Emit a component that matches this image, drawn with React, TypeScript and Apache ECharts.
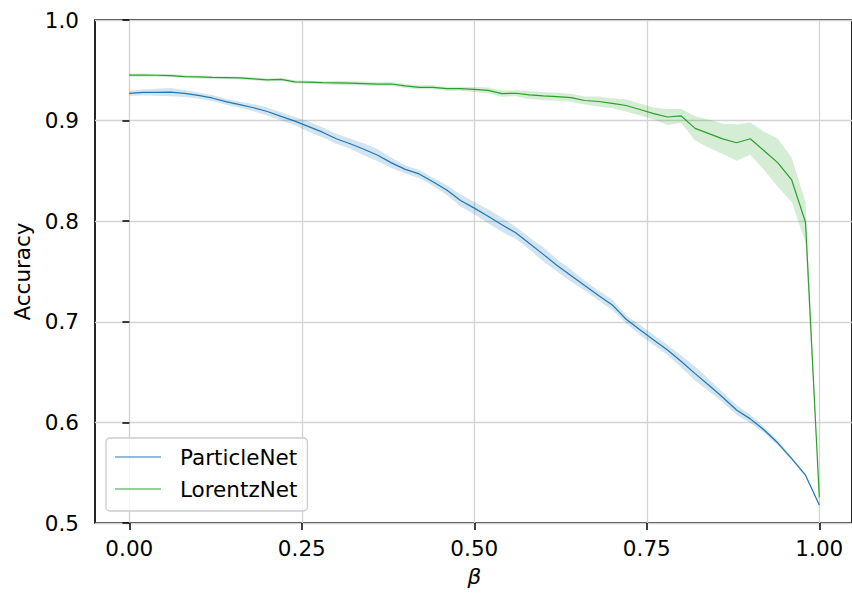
import React, { useEffect, useRef } from "react";
import * as echarts from "echarts";

const betas = [
  0.0, 0.02, 0.04, 0.06, 0.08, 0.1, 0.12, 0.14, 0.16, 0.18, 0.2, 0.22, 0.24, 0.26, 0.28, 0.3, 0.32,
  0.34, 0.36, 0.38, 0.4, 0.42, 0.44, 0.46, 0.48, 0.5, 0.52, 0.54, 0.56, 0.58, 0.6, 0.62, 0.64, 0.66,
  0.68, 0.7, 0.72, 0.74, 0.76, 0.78, 0.8, 0.82, 0.84, 0.86, 0.88, 0.9, 0.92, 0.94, 0.96, 0.98, 1.0,
];

const particleNetMean = [
  0.9271, 0.928, 0.9281, 0.9283, 0.927, 0.925, 0.9225, 0.9188, 0.9158, 0.9128, 0.909, 0.9042,
  0.8995, 0.894, 0.8885, 0.882, 0.877, 0.8715, 0.8655, 0.858, 0.8515, 0.847, 0.8392, 0.831, 0.8205,
  0.813, 0.805, 0.7965, 0.7885, 0.7778, 0.767, 0.756, 0.746, 0.736, 0.7262, 0.7168, 0.7025, 0.692,
  0.682, 0.672, 0.6605, 0.6485, 0.637, 0.625, 0.6123, 0.6035, 0.5925, 0.5795, 0.564, 0.5475, 0.5179,
];
const particleNetStd = [
  0.0025, 0.003, 0.0035, 0.004, 0.0035, 0.003, 0.003, 0.003, 0.003, 0.0035, 0.004, 0.004, 0.004,
  0.005, 0.005, 0.005, 0.005, 0.006, 0.006, 0.005, 0.004, 0.004, 0.004, 0.005, 0.006, 0.006, 0.007,
  0.007, 0.006, 0.006, 0.007, 0.006, 0.006, 0.005, 0.005, 0.005, 0.004, 0.005, 0.005, 0.005, 0.006,
  0.007, 0.006, 0.005, 0.005, 0.004, 0.003, 0.0025, 0.0015, 0.0012, 0.001,
];

const lorentzNetMean = [
  0.9453, 0.9452, 0.9451, 0.9447, 0.9438, 0.9434, 0.9429, 0.9427, 0.9424, 0.9415, 0.9404, 0.941,
  0.9385, 0.9382, 0.9377, 0.9375, 0.9372, 0.9368, 0.9362, 0.9364, 0.9345, 0.9331, 0.9331, 0.9317,
  0.9317, 0.931, 0.93, 0.9268, 0.9272, 0.9255, 0.9245, 0.9238, 0.9228, 0.92, 0.919, 0.9172, 0.915,
  0.911, 0.907, 0.9036, 0.9046, 0.8923, 0.887, 0.8818, 0.878, 0.882, 0.87, 0.858, 0.841, 0.799,
  0.5255,
];
const lorentzNetStd = [
  0.0015, 0.0015, 0.0015, 0.0015, 0.0015, 0.0015, 0.0015, 0.0015, 0.0015, 0.0015, 0.0015, 0.0015,
  0.0015, 0.0015, 0.0015, 0.002, 0.002, 0.002, 0.002, 0.002, 0.002, 0.002, 0.002, 0.002, 0.002,
  0.0025, 0.003, 0.003, 0.003, 0.004, 0.004, 0.004, 0.004, 0.004, 0.005, 0.005, 0.006, 0.006, 0.006,
  0.008, 0.007, 0.012, 0.014, 0.015, 0.018, 0.016, 0.019, 0.024, 0.022, 0.02, 0.002,
];

const yTicks = [0.5, 0.6, 0.7, 0.8, 0.9, 1.0];
const xTicks = [0.0, 0.25, 0.5, 0.75, 1.0];

const BLUE = "#1f77b4";
const GREEN = "#2ca02c";
const FONT = "DejaVu Sans";

function bandSeries(name: string, mean: number[], std: number[], color: string) {
  const rows = betas.map((b, i) => [b, mean[i] - std[i], mean[i] + std[i]]);
  return {
    name: name + "_band",
    type: "custom",
    xAxisIndex: 1,
    yAxisIndex: 1,
    silent: true,
    data: rows,
    encode: { x: 0, y: [1, 2] },
    renderItem: (params: any, api: any) => {
      if (params.dataIndex !== 0) return null;
      const upper = rows.map((r) => api.coord([r[0], r[2]]));
      const lower = rows.map((r) => api.coord([r[0], r[1]])).reverse();
      return {
        type: "polygon",
        shape: { points: upper.concat(lower) },
        style: { fill: color, opacity: 0.2 },
      };
    },
    z: 2,
  };
}

export default function App() {
  const ref = useRef<HTMLDivElement>(null);
  useEffect(() => {
    if (!ref.current) return;
    const chart = echarts.init(ref.current, null, { renderer: "svg" });
    const option = {
      animation: false,
      backgroundColor: "#ffffff",
      textStyle: { fontFamily: FONT },
      grid: [
        {
          left: 95,
          top: 20,
          width: 759,
          height: 503,
          show: true,
          borderColor: "#000000",
          borderWidth: 1.7,
          backgroundColor: "transparent",
        },
        { left: 129.3, top: 20, width: 690, height: 503 },
      ],
      xAxis: [
        { gridIndex: 0, type: "value", min: -0.05, max: 1.05, show: false },
        {
          gridIndex: 1,
          type: "value",
          min: xTicks[0],
          max: xTicks[xTicks.length - 1],
          interval: 0.25,
          name: "β",
          nameLocation: "middle",
          nameGap: 42,
          nameTextStyle: { fontSize: 21.5, fontStyle: "italic", color: "#000", fontFamily: FONT },
          axisLine: { show: false },
          axisTick: { show: true, length: 7, lineStyle: { color: "#000", width: 1.5 } },
          axisLabel: {
            fontSize: 21.5,
            color: "#000",
            margin: 14,
            fontFamily: FONT,
            formatter: (v: number) => v.toFixed(2),
          },
          splitLine: { show: true, lineStyle: { color: "#d3d3d3", width: 1.3 } },
        },
      ],
      yAxis: [
        {
          gridIndex: 0,
          type: "value",
          min: yTicks[0],
          max: yTicks[yTicks.length - 1],
          interval: 0.1,
          name: "Accuracy",
          nameLocation: "middle",
          nameGap: 62,
          nameTextStyle: { fontSize: 21.5, color: "#000", fontFamily: FONT },
          axisLine: { show: false },
          axisTick: { show: true, length: 7, lineStyle: { color: "#000", width: 1.5 } },
          axisLabel: {
            fontSize: 21.5,
            color: "#000",
            margin: 16,
            fontFamily: FONT,
            formatter: (v: number) => v.toFixed(1),
          },
          splitLine: { show: true, lineStyle: { color: "#d3d3d3", width: 1.3 } },
        },
        { gridIndex: 1, type: "value", min: 0.5, max: 1.0, show: false },
      ],
      legend: {
        data: [
          { name: "ParticleNet", itemStyle: { opacity: 0.65 } },
          { name: "LorentzNet", itemStyle: { opacity: 0.65 } },
        ],
        icon: "rect",
        orient: "vertical",
        left: 106,
        top: 438,
        itemWidth: 46,
        itemHeight: 1.5,
        itemGap: 8,
        padding: [7, 10, 10, 9],
        backgroundColor: "rgba(255,255,255,0.8)",
        borderColor: "#cccccc",
        borderWidth: 1.3,
        borderRadius: 4,
        textStyle: {
          fontSize: 21.5,
          color: "#000",
          fontFamily: FONT,
          lineHeight: 24,
          padding: [0, 0, 0, 14],
        },
      },
      series: [
        bandSeries("ParticleNet", particleNetMean, particleNetStd, BLUE),
        bandSeries("LorentzNet", lorentzNetMean, lorentzNetStd, GREEN),
        {
          name: "ParticleNet",
          type: "line",
          xAxisIndex: 1,
          yAxisIndex: 1,
          data: betas.map((b, i) => [b, particleNetMean[i]]),
          symbol: "none",
          lineStyle: { color: BLUE, width: 1.2 },
          itemStyle: { color: BLUE },
          z: 5,
        },
        {
          name: "LorentzNet",
          type: "line",
          xAxisIndex: 1,
          yAxisIndex: 1,
          data: betas.map((b, i) => [b, lorentzNetMean[i]]),
          symbol: "none",
          lineStyle: { color: GREEN, width: 1.2 },
          itemStyle: { color: GREEN },
          z: 5,
        },
      ],
    };
    chart.setOption(option as any);
    return () => chart.dispose();
  }, []);
  return (
    <div
      ref={ref}
      style={{ position: "fixed", left: 0, top: 0, width: 852, height: 595, background: "#fff" }}
    />
  );
}
